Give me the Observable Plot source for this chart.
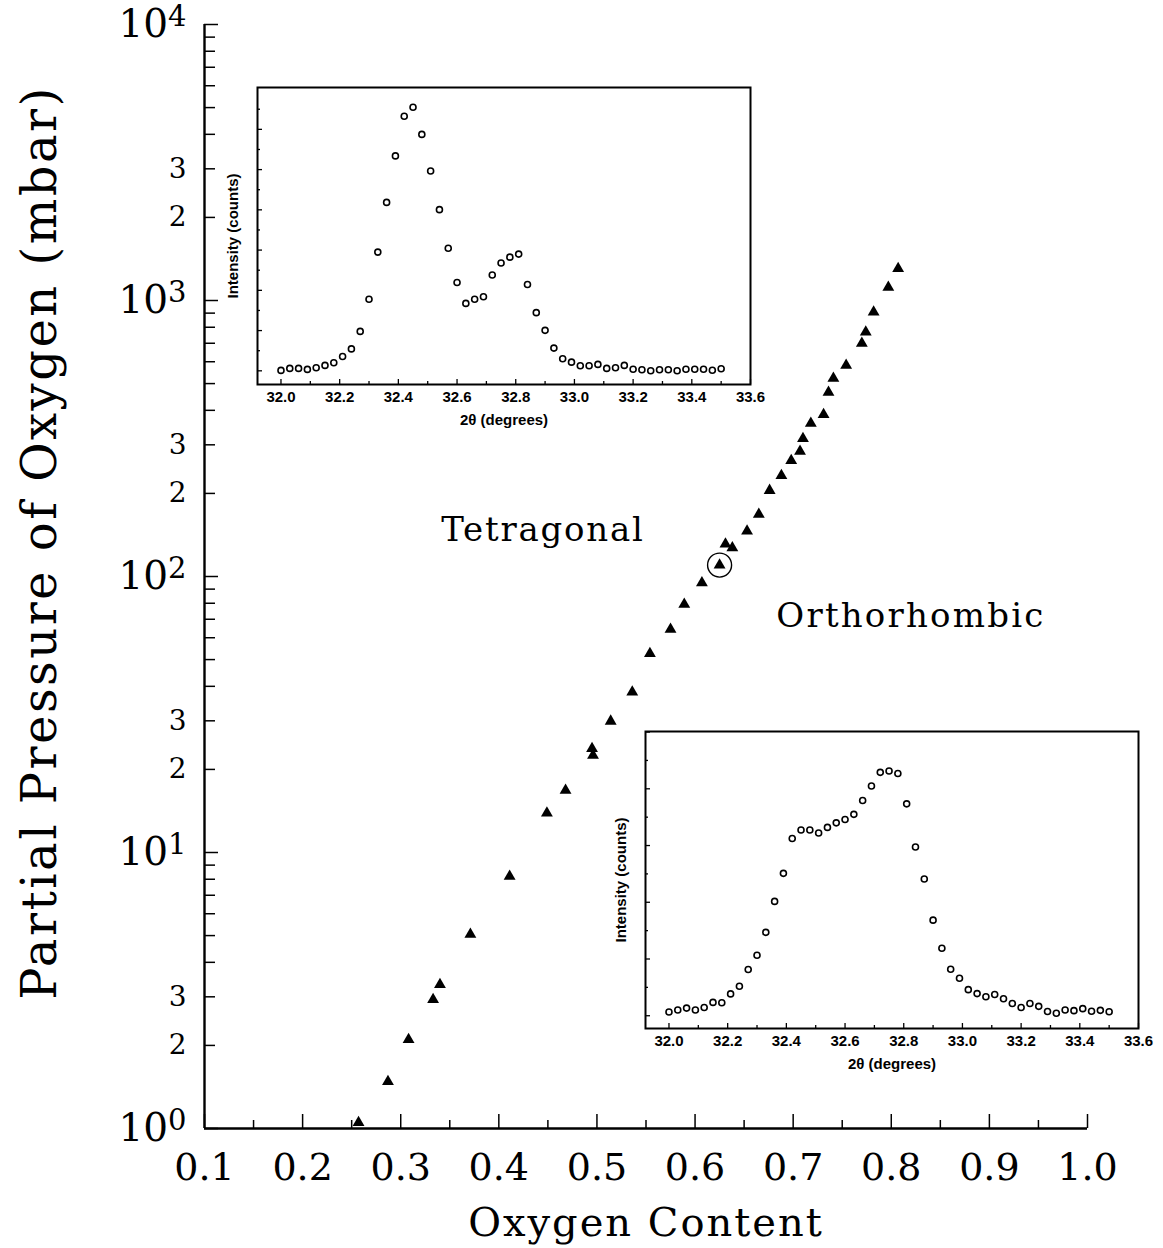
<!DOCTYPE html>
<html>
<head>
<meta charset="utf-8">
<script src="https://cdn.jsdelivr.net/npm/d3@7"></script>
<script src="https://cdn.jsdelivr.net/npm/@observablehq/plot@0.6"></script>
<style>
  html, body { margin: 0; padding: 0; background: #fff; }
  #figure { position: relative; width: 1163px; height: 1248px; overflow: hidden; background: #fff; }
  #figure svg { position: absolute; }
</style>
</head>
<body>
<div id="figure"></div>
<script>
// Oxygen content of each sample and the oxygen partial pressure (mbar) it was equilibrated at
const oxygenContent = [0.257, 0.287, 0.308, 0.333, 0.340, 0.371, 0.411, 0.449, 0.468, 0.495,
  0.496, 0.514, 0.536, 0.554, 0.575, 0.589, 0.607, 0.625, 0.631, 0.638,
  0.653, 0.665, 0.676, 0.688, 0.698, 0.707, 0.710, 0.718, 0.731, 0.736,
  0.741, 0.754, 0.770, 0.774, 0.782, 0.797, 0.807];
const pressure = [1.05, 1.48, 2.10, 2.93, 3.32, 5.05, 8.19, 13.9, 16.8, 23.8,
  22.5, 29.9, 38.1, 52.6, 64.3, 79.2, 94.9, 110, 131, 127,
  146, 168, 205, 232, 263, 284, 316, 359, 386, 465,
  522, 582, 700, 768, 907, 1117, 1306];
// sample marked with a ring
const circledIndex = 17;

// phase-field labels, anchored in data coordinates (text baseline)
const phaseNames = ["Tetragonal", "Orthorhombic"];
const phaseX = [0.445, 0.820];
const phaseY = [134, 65.4];

// X-ray diffraction scans of the two insets
const twoTheta = [32.00, 32.03, 32.06, 32.09, 32.12, 32.15, 32.18, 32.21, 32.24, 32.27,
  32.30, 32.33, 32.36, 32.39, 32.42, 32.45, 32.48, 32.51, 32.54, 32.57,
  32.60, 32.63, 32.66, 32.69, 32.72, 32.75, 32.78, 32.81, 32.84, 32.87,
  32.90, 32.93, 32.96, 32.99, 33.02, 33.05, 33.08, 33.11, 33.14, 33.17,
  33.20, 33.23, 33.26, 33.29, 33.32, 33.35, 33.38, 33.41, 33.44, 33.47, 33.50];
const upperCounts = [202, 212, 212, 207, 215, 227, 240, 271, 309, 396,
  556, 790, 1037, 1268, 1465, 1510, 1375, 1193, 1001, 809,
  639, 535, 556, 568, 676, 736, 765, 780, 629, 489,
  401, 313, 260, 243, 225, 225, 232, 212, 215, 227,
  208, 205, 200, 205, 205, 200, 208, 208, 208, 203, 210];
const lowerCounts = [213, 220, 227, 220, 229, 247, 246, 277, 304, 363,
  413, 494, 603, 702, 825, 855, 855, 844, 864, 880,
  892, 910, 959, 1010, 1058, 1063, 1054, 947, 795, 682,
  537, 438, 364, 332, 292, 278, 267, 275, 260, 243,
  229, 243, 233, 215, 209, 220, 218, 225, 216, 219, 214];

// tick values
const xMajorTicks = [0.1, 0.2, 0.3, 0.4, 0.5, 0.6, 0.7, 0.8, 0.9, 1.0];
const xMinorTicks = [0.15, 0.25, 0.35, 0.45, 0.55, 0.65, 0.75, 0.85, 0.95];
const yDecades = [1, 10, 100, 1000, 10000];
const yLabelledMinor = [2, 3, 20, 30, 200, 300, 2000, 3000];
const yMinorTicks = yDecades.slice(0, -1).flatMap(d => [2, 3, 4, 5, 6, 7, 8, 9].map(m => m * d));
const thetaMajorTicks = [32.0, 32.2, 32.4, 32.6, 32.8, 33.0, 33.2, 33.4, 33.6];
const thetaMinorTicks = [32.1, 32.3, 32.5, 32.7, 32.9, 33.1, 33.3, 33.5];
const countMajorTicks = [200, 400, 600, 800, 1000, 1200, 1400];
const countMinorTicks = [300, 500, 700, 900, 1100, 1300, 1500];

const figure = document.getElementById("figure");
const noText = () => "";
const exponent = d => Math.floor(Math.log10(d) + 1e-9);

const samples = oxygenContent.map((x, i) => ({x, p: pressure[i]}));
const phases = phaseNames.map((name, i) => ({name, x: phaseX[i], p: phaseY[i]}));

const main = Plot.plot({
  width: 1163,
  height: 1248,
  marginLeft: 204,
  marginRight: 76,
  marginTop: 24,
  marginBottom: 120,
  style: {fontFamily: "'DejaVu Serif', serif", color: "#000", background: "transparent", overflow: "visible"},
  x: {domain: [0.1, 1.0]},
  y: {type: "log", domain: [1, 10000]},
  marks: [
    Plot.ruleX([0.1], {strokeWidth: 2.4}),
    Plot.ruleY([1], {strokeWidth: 2.4}),
    // inward ticks
    Plot.axisX({ticks: xMajorTicks, tickSize: 14, dy: -14, tickFormat: noText, label: null, strokeWidth: 1.5}),
    Plot.axisX({ticks: xMinorTicks, tickSize: 8, dy: -8, tickFormat: noText, label: null, strokeWidth: 1.5}),
    Plot.axisY({ticks: yDecades, tickSize: 14, dx: 14, tickFormat: noText, label: null, strokeWidth: 1.5}),
    Plot.axisY({ticks: yMinorTicks, tickSize: 11, dx: 11, tickFormat: noText, label: null, strokeWidth: 1.5}),
    // tick labels
    Plot.axisX({ticks: xMajorTicks, tickSize: 0, tickPadding: 25, tickFormat: d3.format(".1f"), label: null, fontSize: 38}),
    Plot.text(yDecades, {y: d => d, text: d => `10^${exponent(d)}`, frameAnchor: "left",
      textAnchor: "end", lineAnchor: "middle", dx: -18, fontSize: 39}),
    Plot.text(yLabelledMinor, {y: d => d, text: d => String(Math.round(d / 10 ** exponent(d))), frameAnchor: "left",
      textAnchor: "end", lineAnchor: "middle", dx: -18, fontSize: 28}),
    // axis titles
    Plot.text(["Partial Pressure of Oxygen (mbar)"], {frameAnchor: "left", textAnchor: "middle", lineAnchor: "middle",
      rotate: -90, dx: -164, dy: -34, fontSize: 48}),
    Plot.text(["Oxygen Content"], {frameAnchor: "bottom", textAnchor: "middle", lineAnchor: "bottom", dy: 107, fontSize: 40}),
    // phase fields
    Plot.text(phases, {x: "x", y: "p", text: "name", lineAnchor: "bottom", fontSize: 34}),
    // samples
    Plot.dot(samples, {x: "x", y: "p", symbol: "triangle", r: 4.4, fill: "#000"}),
    Plot.dot([samples[circledIndex]], {x: "x", y: "p", r: 12, stroke: "#000", strokeWidth: 1.4, fill: "none"})
  ]
});
main.style.left = "0px";
main.style.top = "0px";
figure.appendChild(main);

// superscript exponents on the decade labels, letter spacing on titles
const spacing = {
  "Partial Pressure of Oxygen (mbar)": 2.5,
  "Oxygen Content": 2,
  "Tetragonal": 1.8,
  "Orthorhombic": 2.2
};
d3.select(main).selectAll("text").each(function () {
  const t = this.textContent;
  const m = /^10\^(\d)$/.exec(t);
  if (m) {
    this.textContent = "10";
    d3.select(this).append("tspan").attr("dy", "-0.38em").attr("font-size", "29px").text(m[1]);
  } else if (t in spacing) {
    this.setAttribute("letter-spacing", spacing[t]);
  }
});

// diffraction inset
function inset(counts, countDomain, left, top) {
  const points = twoTheta.map((t, i) => ({t, c: counts[i]}));
  const inDomain = v => v >= countDomain[0] && v <= countDomain[1];
  const svg = Plot.plot({
    width: 555,
    height: 349,
    marginLeft: 40,
    marginRight: 22,
    marginTop: 4,
    marginBottom: 48,
    style: {fontFamily: "'Liberation Sans', Arial, sans-serif", color: "#000", background: "transparent", overflow: "visible"},
    x: {domain: [31.92, 33.6]},
    y: {domain: countDomain},
    marks: [
      Plot.frame({strokeWidth: 2}),
      Plot.axisX({ticks: thetaMajorTicks, tickSize: 5, dy: -5, tickFormat: noText, label: null, strokeWidth: 1.3}),
      Plot.axisX({ticks: thetaMinorTicks, tickSize: 3, dy: -3, tickFormat: noText, label: null, strokeWidth: 1.3}),
      Plot.axisY({ticks: countMajorTicks.filter(inDomain), tickSize: 5, dx: 5, tickFormat: noText, label: null, strokeWidth: 1.3}),
      Plot.axisY({ticks: countMinorTicks.filter(inDomain), tickSize: 3, dx: 3, tickFormat: noText, label: null, strokeWidth: 1.3}),
      Plot.axisX({ticks: thetaMajorTicks, tickSize: 0, tickPadding: 7, tickFormat: d3.format(".1f"), label: null,
        fontSize: 15, fontWeight: "bold"}),
      Plot.dot(points, {x: "t", y: "c", r: 3, stroke: "#000", strokeWidth: 1.6, fill: "none"}),
      Plot.text(["2θ (degrees)"], {frameAnchor: "bottom", textAnchor: "middle", lineAnchor: "bottom", dy: 40,
        fontSize: 15, fontWeight: "bold"}),
      Plot.text(["Intensity (counts)"], {frameAnchor: "left", textAnchor: "middle", lineAnchor: "middle",
        rotate: -90, dx: -24, fontSize: 15, fontWeight: "bold"})
    ]
  });
  svg.style.left = left + "px";
  svg.style.top = top + "px";
  figure.appendChild(svg);
}

inset(upperCounts, [132, 1608], 217, 83);
inset(lowerCounts, [155, 1202], 605, 727);
</script>
</body>
</html>
